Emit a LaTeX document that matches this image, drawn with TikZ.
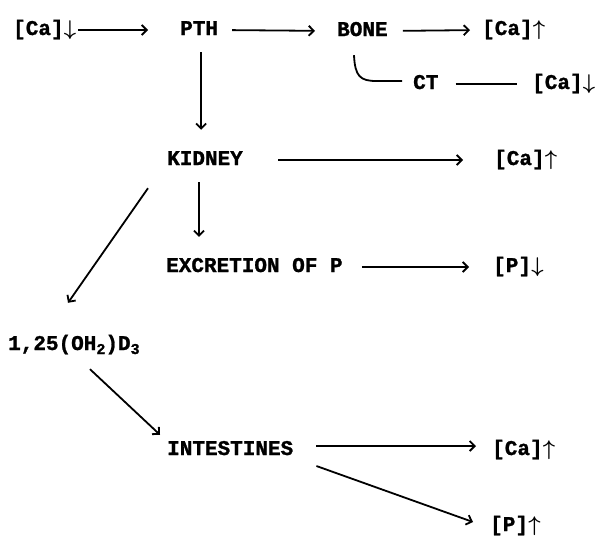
\documentclass[tikz,border=0pt]{standalone}
\usepackage{fontspec}
\setmonofont[BoldFeatures={FakeBold=1.2}]{Liberation Mono}
\usetikzlibrary{arrows.meta,calc}
\newcommand{\lowsub}[1]{\raisebox{-4pt}{\fontsize{15}{15}\selectfont #1}}
\newcommand{\up}{\makebox[13pt][c]{\resizebox*{!}{19pt}{\boldmath$\uparrow$}}}
\newcommand{\down}{\makebox[13pt][c]{\resizebox*{!}{19pt}{\boldmath$\downarrow$}}}
\begin{document}
\begin{tikzpicture}[x=1pt,y=-1pt,
  lbl/.style={anchor=base west,inner sep=0pt,text height=10pt,text depth=0pt,
    font=\fontsize{21}{21}\ttfamily\bfseries},
  arr/.style={line width=1.8pt,-{Straight Barb[length=5pt,width=10pt,line width=1.8pt]}},
  plain/.style={line width=1.8pt}]
\useasboundingbox (0,0) rectangle (596,536);

% top row: calcium, hormone, bone
\node[lbl] (ca1) at (13,35) {[Ca]\down};
\node[lbl] (pth) at (180,35) {PTH};
\node[lbl] (bone) at (337,36) {BONE};
\node[lbl] (ca2) at (482,35) {[Ca]\up};
\node[lbl] (ct) at (413,89) {CT};
\node[lbl] (ca5) at (532,89) {[Ca]\down};

% kidney branch
\node[lbl] (kidney) at (167,165) {KIDNEY};
\node[lbl] (ca3) at (494,165) {[Ca]\up};
\node[lbl] (excr) at (166,272) {EXCRETION OF P};
\node[lbl] (p1) at (493,272) {[P]\down};

% vitamin D and intestines
\node[lbl] (d3) at (8,350) {1,25(OH\lowsub{2})D\lowsub{3}};
\node[lbl] (intest) at (167,455) {INTESTINES};
\node[lbl] (ca4) at (492,455) {[Ca]\up};
\node[lbl] (p2) at (490,531) {[P]\up};

% connectors
\draw[arr,shorten <=1pt,shorten >=32pt] (ca1.east) -- (pth.west);
\draw[arr,shorten <=14pt,shorten >=22pt] (pth.east) -- (bone.west);
\draw[arr,shorten <=15pt,shorten >=12pt] (bone.east) -- (ca2.west);
\draw[plain] ($(bone.south west)+(17,19)$) .. controls ($(bone.south west)+(18,40)$) and ($(bone.south west)+(23,45)$) .. ($(ct.west)+(-36,-3)$) -- ($(ct.west)+(-11,-3)$);
\draw[plain,shorten <=17pt,shorten >=15pt] (ct.east) -- (ca5.west);

\draw[arr,shorten <=17pt,shorten >=25pt] ([xshift=2pt]pth.south) -- ([xshift=2pt]pth.south |- kidney.north);
\draw[arr,shorten <=35pt,shorten >=31pt] (kidney.east) -- (ca3.west);
\draw[arr,shorten <=17pt,shorten >=25pt] ([xshift=-6pt]kidney.south) -- ([xshift=-6pt]kidney.south |- excr.north);
\draw[arr,shorten <=19pt,shorten >=24pt] (excr.east) -- (p1.west);
\draw[arr] ($(kidney.south west)+(-19,23)$) -- ($(d3.north west)+(60,-37)$);

\draw[arr] ($(d3.south west)+(82,19)$) -- ($(intest.north west)+(-7,-10)$);
\draw[arr,shorten <=23pt,shorten >=16pt] ([yshift=4pt]intest.east) -- ([yshift=4pt]ca4.west);
\draw[arr] ($(intest.east)+(23,16)$) -- ($(p2.west)+(-17,-4)$);
\end{tikzpicture}
\end{document}
